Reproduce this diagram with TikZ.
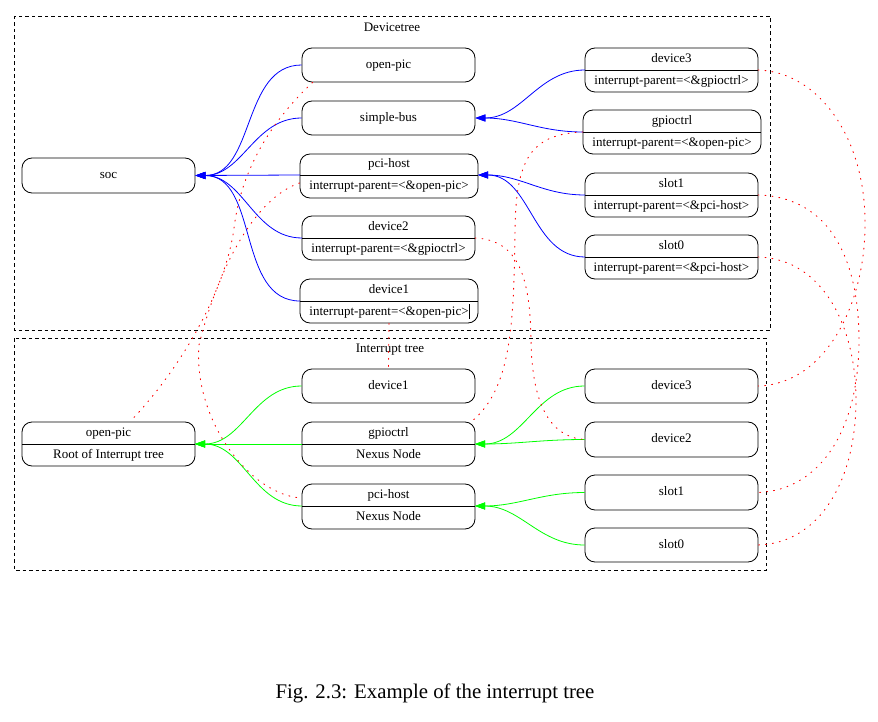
\documentclass[tikz,border=0pt]{standalone}
\usepackage{fontspec}
\setmainfont{Liberation Serif}
\usetikzlibrary{arrows.meta}
\newcommand\recbox[8]{%
  \node[box, minimum width={(#4-#2)*1pt}, minimum height={(#5-#3)*1pt}] (#1) at ({(#2+#4)/2},{(#3+#5)/2}) {};
  \coordinate (#1L) at (#2,#6);
  \coordinate (#1R) at (#4,#6);
  \draw[line width=0.8pt] (#1L) -- (#1R);
  \node[txt] (#1top) at ({(#2+#4)/2},{(#3+#6)/2}) {#7};
  \node[txt] (#1bot) at ({(#2+#4)/2},{(#6+#5)/2}) {#8};
}
\newcommand\simpbox[6]{%
  \node[box, minimum width={(#4-#2)*1pt}, minimum height={(#5-#3)*1pt}] (#1) at ({(#2+#4)/2},{(#3+#5)/2}) {};
  \node[txt] (#1txt) at ({(#2+#4)/2},{(#3+#5)/2}) {#6};
}
\begin{document}
\begin{tikzpicture}[x=1pt,y=-1pt,
  box/.style={draw=black, line width=0.8pt, rounded corners=10pt, inner sep=0pt},
  txt/.style={font=\fontsize{13}{15}\selectfont, inner sep=0pt, text height=9pt, text depth=2.8pt},
  clus/.style={draw=black, line width=0.8pt, dash pattern=on 3.5pt off 3pt},
  blueedge/.style={draw=blue, line width=0.8pt, -{Triangle[length=10pt,width=7pt]}},
  greenedge/.style={draw=green, line width=0.8pt, -{Triangle[length=10pt,width=7pt]}},
  reddot/.style={draw=red, line width=0.9pt, dash pattern=on 1pt off 6pt, line cap=round}
]
\useasboundingbox (0,0) rectangle (878,722);

% clusters
\draw[clus] (14,16) rectangle (770,330);
\draw[clus] (14,338) rectangle (766,570);
\node[txt] (dtlabel) at (392,28) {Devicetree};
\node[txt] (intlabel) at (390,349) {Interrupt tree};

% devicetree nodes
\simpbox{soc}{22}{158}{195}{193}{soc}
\simpbox{dtopenpic}{302}{48}{475}{82}{open-pic}
\simpbox{dtsimplebus}{302}{101}{475}{135}{simple-bus}
\recbox{dtpcihost}{300}{154}{478}{198}{175}{pci-host}{interrupt-parent=<\&open-pic>}
\recbox{dtdevtwo}{302}{216}{475}{260}{238}{device2}{interrupt-parent=<\&gpioctrl>}
\recbox{dtdevone}{300}{279}{478}{323}{301}{device1}{interrupt-parent=<\&open-pic>}
\draw[line width=0.8pt] (469,304) -- (469,319);
\recbox{dtdevthree}{585}{48}{758}{92}{70}{device3}{interrupt-parent=<\&gpioctrl>}
\recbox{dtgpio}{583}{110}{761}{154}{132}{gpioctrl}{interrupt-parent=<\&open-pic>}
\recbox{dtslotone}{585}{173}{758}{217}{195}{slot1}{interrupt-parent=<\&pci-host>}
\recbox{dtslotzero}{585}{235}{758}{279}{257}{slot0}{interrupt-parent=<\&pci-host>}

% interrupt tree nodes
\recbox{intopenpic}{22}{422}{195}{466}{444}{open-pic}{Root of Interrupt tree}
\simpbox{intdevone}{302}{369}{475}{403}{device1}
\recbox{intgpio}{302}{422}{475}{466}{444}{gpioctrl}{Nexus Node}
\recbox{intpcihost}{302}{484}{475}{529}{506}{pci-host}{Nexus Node}
\simpbox{intdevthree}{585}{369}{758}{403}{device3}
\simpbox{intdevtwo}{585}{422}{758}{457}{device2}
\simpbox{intslotone}{585}{475}{758}{510}{slot1}
\simpbox{intslotzero}{585}{528}{758}{562}{slot0}

% blue edges
\draw[blueedge] (dtopenpic.west) to[out=180,in=0] (soc.east);
\draw[blueedge] (dtsimplebus.west) to[out=180,in=0] (soc.east);
\draw[blueedge] (dtpcihostL) -- (soc.east);
\draw[blueedge] (dtdevtwoL) to[out=180,in=0] (soc.east);
\draw[blueedge] (dtdevoneL) to[out=180,in=0] (soc.east);
\draw[blueedge] (dtdevthreeL) to[out=180,in=0] (dtsimplebus.east);
\draw[blueedge] (dtgpioL) to[out=180,in=0] (dtsimplebus.east);
\draw[blueedge] (dtslotoneL) to[out=180,in=0] (dtpcihostR);
\draw[blueedge] (dtslotzeroL) to[out=180,in=0] (dtpcihostR);

% green edges
\draw[greenedge] (intdevone.west) to[out=180,in=0] (intopenpicR);
\draw[greenedge] (intgpioL) -- (intopenpicR);
\draw[greenedge] (intpcihostL) to[out=180,in=0] (intopenpicR);
\draw[greenedge] (intdevthree.west) to[out=180,in=0] (intgpioR);
\draw[greenedge] (intdevtwo.west) to[out=180,in=0] (intgpioR);
\draw[greenedge] (intslotone.west) to[out=180,in=0] (intpcihostR);
\draw[greenedge] (intslotzero.west) to[out=180,in=0] (intpcihostR);

% red dotted edges
\draw[reddot] ([xshift=11pt]dtopenpic.south west) .. controls (262,130) and (240,180) .. (234,228) .. controls (226,290) and (180,370) .. ([xshift=21.5pt]intopenpic.north);
\draw[reddot] ([yshift=-7pt]dtpcihost.west) .. controls (250,200) and (215,280) .. (199,345) .. controls (193,420) and (250,495) .. ([yshift=8.5pt]intpcihost.west);
\draw[reddot] (dtdevone.south) -- (intdevone.north);
\draw[reddot] (dtgpioL) .. controls (530,134) and (516,160) .. (515,230) .. controls (514,330) and (510,390) .. ([xshift=-4pt]intgpio.north east);
\draw[reddot] (dtdevtwoR) .. controls (520,240) and (530,280) .. (531,340) .. controls (532,420) and (560,438) .. (intdevtwo.west);
\draw[reddot] (dtdevthreeR) .. controls (820,72) and (866,140) .. (865,225) .. controls (865,305) and (825,384) .. (intdevthree.east);
\draw[reddot] (dtslotoneR) .. controls (830,197) and (859,260) .. (859,340) .. controls (859,430) and (820,490) .. (intslotone.east);
\draw[reddot] (dtslotzeroR) .. controls (825,259) and (856,330) .. (856,400) .. controls (856,480) and (820,543) .. (intslotzero.east);

% caption
\node[font=\fontsize{20.8}{25}\selectfont, inner sep=0pt] (caption) at (435,693) {Fig. 2.3: Example of the interrupt tree};
\end{tikzpicture}
\end{document}
